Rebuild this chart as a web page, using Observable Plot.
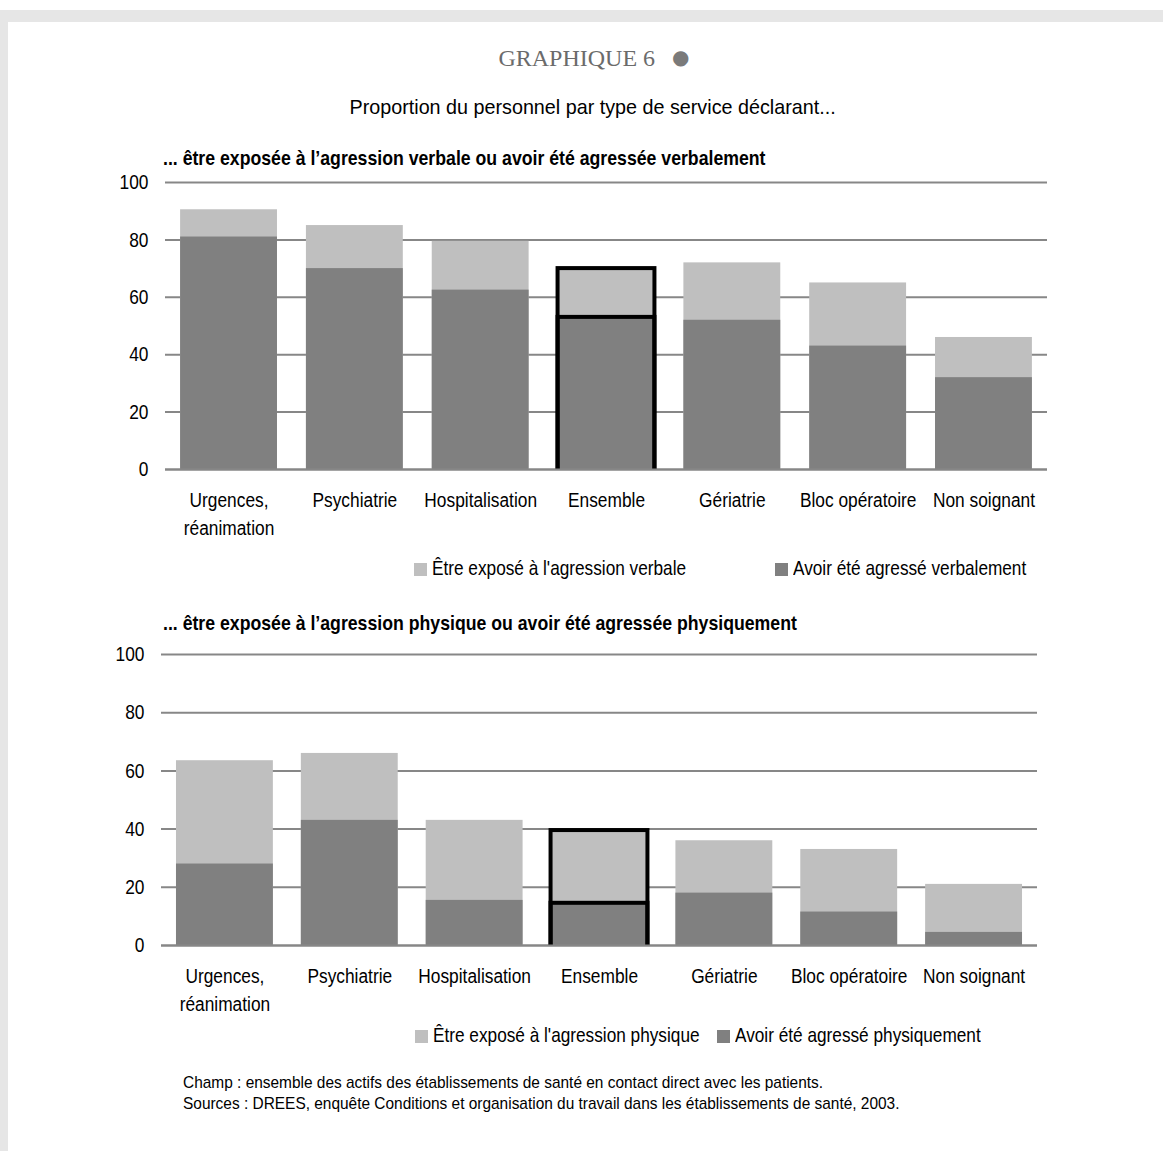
<!DOCTYPE html>
<html>
<head>
<meta charset="utf-8">
<script src="https://cdn.jsdelivr.net/npm/d3@7"></script>
<script src="https://cdn.jsdelivr.net/npm/@observablehq/plot@0.6"></script>
<style>
  html, body { margin: 0; padding: 0; background: #ffffff; }
  body { width: 1163px; height: 1151px; position: relative; overflow: hidden;
         font-family: "Liberation Sans Narrow", "Arial Narrow", "Liberation Sans", Arial, sans-serif; color: #000; }
  .abs { position: absolute; white-space: nowrap; }
  #frame { position: absolute; left: 0; top: 10px; width: 1163px; height: 1141px; background: #e6e6e6; }
  #page { position: absolute; left: 8px; top: 22px; width: 1155px; height: 1129px; background: #ffffff; }
  .n { display: inline-block; transform-origin: left center; }
  .c { display: inline-block; transform-origin: center center; }
  .sw { display: inline-block; width: 13px; height: 13px; vertical-align: -1px; margin-right: 5px; }
  .leg { font-size: 21px; line-height: 21px; }
  .leg .n { transform: scaleX(0.82); }
</style>
</head>
<body>
<div id="frame"></div>
<div id="page"></div>
<div id="chart1" class="abs" style="left:0; top:140px;"></div>
<div id="chart2" class="abs" style="left:0; top:612px;"></div>

<div class="abs" style="left:0; width:1188px; top:43px; text-align:center; font-family:'Liberation Serif', 'Times New Roman', serif; font-size:24px; color:#6b6b6b; line-height:28px;">GRAPHIQUE 6<span style="color:#7a7a7a; font-size:20px; font-family:'DejaVu Sans'; margin-left:17px; vertical-align:2px;">●</span></div>
<div class="abs" style="left:0; width:1185px; top:95px; text-align:center; font-size:21px; line-height:24px;"><span class="c" style="transform:scaleX(0.94)">Proportion du personnel par type de service déclarant...</span></div>
<div class="abs" style="left:163px; top:146px; font-size:21px; font-weight:bold; line-height:24px;"><span class="n" style="transform:scaleX(0.842)">... être exposée à l’agression verbale ou avoir été agressée verbalement</span></div>
<div class="abs leg" style="left:414px; top:557px;"><span class="sw" style="background:#bfbfbf"></span><span class="n">Être exposé à l'agression verbale</span></div>
<div class="abs leg" style="left:775px; top:557px;"><span class="sw" style="background:#808080"></span><span class="n">Avoir été agressé verbalement</span></div>
<div class="abs" style="left:163px; top:611px; font-size:21px; font-weight:bold; line-height:24px;"><span class="n" style="transform:scaleX(0.842)">... être exposée à l’agression physique ou avoir été agressée physiquement</span></div>
<div class="abs leg" style="left:415px; top:1024px;"><span class="sw" style="background:#bfbfbf"></span><span class="n">Être exposé à l'agression physique</span></div>
<div class="abs leg" style="left:717px; top:1024px;"><span class="sw" style="background:#808080"></span><span class="n">Avoir été agressé physiquement</span></div>
<div class="abs" style="left:183px; top:1072px; font-size:17px; line-height:21px;"><span class="n" style="transform:scaleX(0.908)">Champ : ensemble des actifs des établissements de santé en contact direct avec les patients.<br>Sources : DREES, enquête Conditions et organisation du travail dans les établissements de santé, 2003.</span></div>

<script>
const categories = ["Urgences, réanimation", "Psychiatrie", "Hospitalisation", "Ensemble", "Gériatrie", "Bloc opératoire", "Non soignant"];
const verbalExpose = [90.5, 85, 79.5, 70, 72, 65, 46];
const verbalAgresse = [81, 70, 62.5, 53, 52, 43, 32];
const physiqueExpose = [63.5, 66, 43, 39.5, 36, 33, 21];
const physiqueAgresse = [28, 43, 15.5, 14.5, 18, 11.5, 4.5];
const yTicks = [0, 20, 40, 60, 80, 100];
const highlight = "Ensemble";

const FONT = `"Liberation Sans Narrow", "Arial Narrow", "Liberation Sans", Arial, sans-serif`;

function makeChart(expose, agresse, opts) {
  const data = categories.map((c, i) => ({cat: c, expose: expose[i], agresse: agresse[i]}));
  const hl = data.filter(d => d.cat === highlight);
  const svg = Plot.plot({
    width: 1163,
    height: opts.height,
    marginLeft: opts.marginLeft,
    marginRight: opts.marginRight,
    marginTop: 42,
    marginBottom: opts.marginBottom,
    style: {background: "transparent", fontFamily: FONT, fontSize: "21px", color: "#000", overflow: "visible"},
    x: {domain: categories, paddingInner: opts.pi, paddingOuter: opts.po, round: false, label: null},
    y: {domain: [0, 100], label: null},
    marks: [
      Plot.ruleY(yTicks, {stroke: "#878787", strokeWidth: 2}),
      Plot.barY(data, {x: "cat", y: "expose", fill: "#bfbfbf"}),
      Plot.barY(data, {x: "cat", y: "agresse", fill: "#808080"}),
      Plot.barY(hl, {x: "cat", y: "expose", fill: "none", stroke: "#000", strokeWidth: 4, insetBottom: -3, clip: true}),
      Plot.barY(hl, {x: "cat", y: "agresse", fill: "none", stroke: "#000", strokeWidth: 4, insetBottom: -3, clip: true}),
      Plot.ruleY([0], {stroke: "#878787", strokeWidth: 2}),
      Plot.axisY({ticks: yTicks, tickSize: 0, tickPadding: 17, fontSize: 21, label: null}),
      Plot.axisX({tickSize: 0, tickPadding: 18, fontSize: 21, lineHeight: 1.333, label: null,
                  tickFormat: d => d.replace(", ", ",\n")})
    ]
  });
  // narrow (condensed) lettering like the original
  svg.querySelectorAll("text").forEach(t => {
    t.setAttribute("transform", (t.getAttribute("transform") || "") + " scale(0.825,1)");
  });
  return svg;
}

document.getElementById("chart1").appendChild(makeChart(verbalExpose, verbalAgresse,
  {height: 409, marginLeft: 165, marginRight: 116, marginBottom: 80, pi: 0.23, po: 0.12}));
document.getElementById("chart2").appendChild(makeChart(physiqueExpose, physiqueAgresse,
  {height: 413, marginLeft: 161, marginRight: 126, marginBottom: 80, pi: 0.224, po: 0.12}));
</script>
</body>
</html>
